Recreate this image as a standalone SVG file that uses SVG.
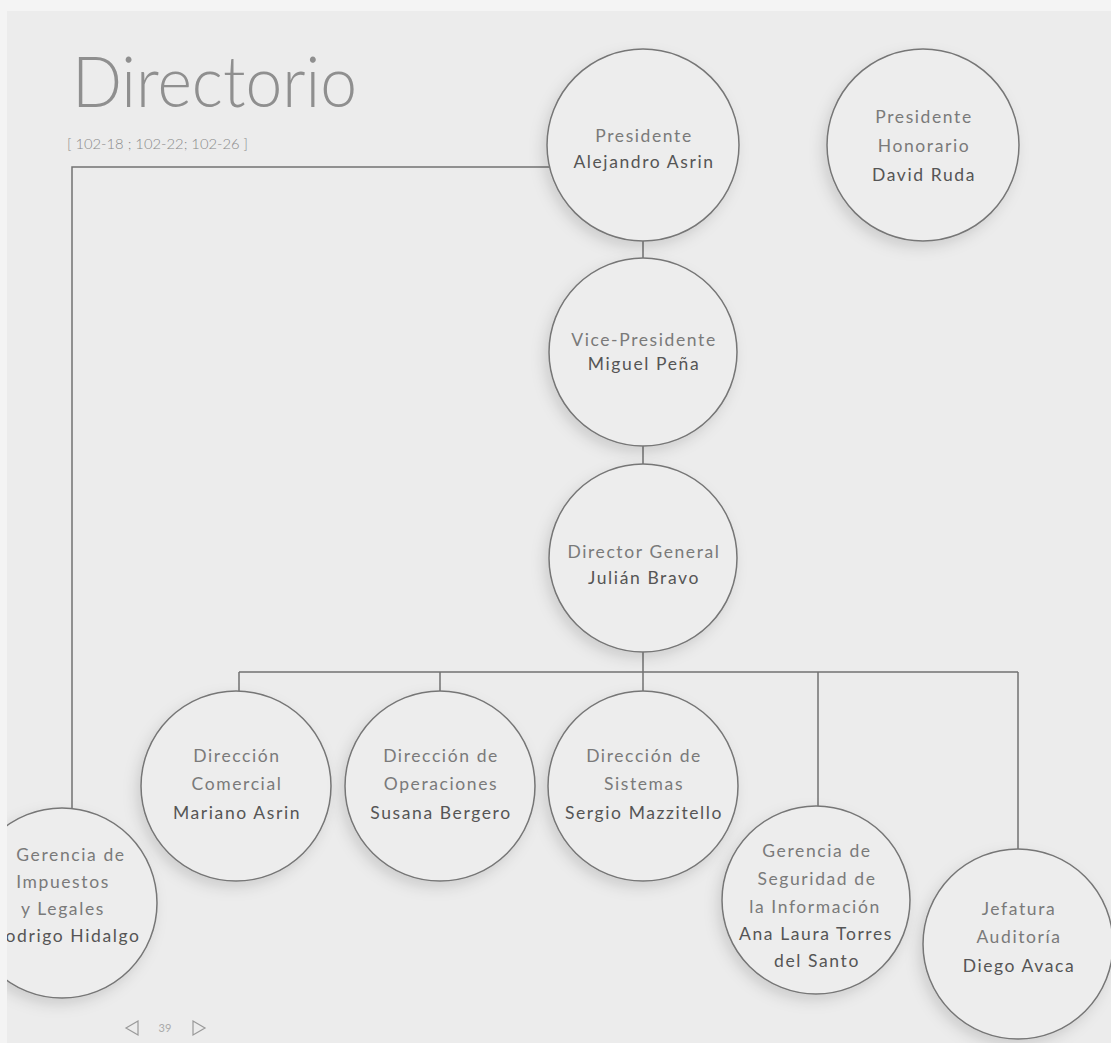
<svg xmlns="http://www.w3.org/2000/svg" width="1111" height="1043" viewBox="0 0 1111 1043">
<style>
.node circle{fill:#ededed;stroke:#767676;stroke-width:1.5;filter:url(#sh)}
.t{font-family:"Lato","Liberation Sans",sans-serif;font-size:17.5px;letter-spacing:1.6px;fill:#7a7a7a;text-anchor:middle}
.n{fill:#555}
.conn line,.conn polyline{stroke:#727272;stroke-width:1.5;fill:none}
</style>
<defs>
<filter id="sh" x="-20%" y="-20%" width="150%" height="150%">
<feDropShadow dx="-4" dy="6" stdDeviation="7" flood-color="#000" flood-opacity="0.13"/>
</filter>
<clipPath id="page"><rect x="7" y="11" width="1104" height="1032"/></clipPath>
</defs>
<rect width="1111" height="1043" fill="#f4f4f4"/>
<rect x="7" y="11" width="1104" height="1032" fill="#ececec"/>
<g clip-path="url(#page)">
<text x="72" y="107" font-family="Lato,'Liberation Sans',sans-serif" font-weight="300" font-size="70" fill="#8f8f8f" textLength="285" lengthAdjust="spacingAndGlyphs">Directorio</text>
<text x="67" y="149" font-family="Lato,'Liberation Sans',sans-serif" font-weight="300" font-size="13" fill="#8a8a8a" textLength="181" lengthAdjust="spacingAndGlyphs">[ 102-18 ; 102-22; 102-26 ]</text>

<g class="conn">
<polyline points="550,167 72,167 72,808"/>
<line x1="643" y1="240" x2="643" y2="258"/>
<line x1="643" y1="446" x2="643" y2="464"/>
<line x1="643" y1="652" x2="643" y2="672"/>
<line x1="239" y1="672" x2="1018" y2="672"/>
<line x1="239" y1="672" x2="239" y2="691"/>
<line x1="440" y1="672" x2="440" y2="691"/>
<line x1="643" y1="672" x2="643" y2="691"/>
<line x1="818" y1="672" x2="818" y2="806"/>
<line x1="1018" y1="672" x2="1018" y2="849"/>
</g>

<g id="presidente" class="node"><circle cx="643" cy="145" r="96"/>
<text class="t" x="644" y="142">Presidente</text><text class="t n" x="644" y="168">Alejandro Asrin</text></g>
<g id="honorario" class="node"><circle cx="923" cy="145" r="96"/>
<text class="t" x="924" y="123">Presidente</text><text class="t" x="924" y="152">Honorario</text><text class="t n" x="924" y="181">David Ruda</text></g>
<g id="vicepresidente" class="node"><circle cx="643" cy="352" r="94"/>
<text class="t" x="644" y="346">Vice-Presidente</text><text class="t n" x="644" y="370">Miguel Peña</text></g>
<g id="directorgeneral" class="node"><circle cx="643" cy="558" r="94"/>
<text class="t" x="644" y="558">Director General</text><text class="t n" x="644" y="584">Julián Bravo</text></g>
<g id="comercial" class="node"><circle cx="236" cy="786" r="95"/>
<text class="t" x="237" y="762">Dirección</text><text class="t" x="237" y="790">Comercial</text><text class="t n" x="237" y="819">Mariano Asrin</text></g>
<g id="operaciones" class="node"><circle cx="440" cy="786" r="95"/>
<text class="t" x="441" y="762">Dirección de</text><text class="t" x="441" y="790">Operaciones</text><text class="t n" x="441" y="819">Susana Bergero</text></g>
<g id="sistemas" class="node"><circle cx="643" cy="786" r="95"/>
<text class="t" x="644" y="762">Dirección de</text><text class="t" x="644" y="790">Sistemas</text><text class="t n" x="644" y="819">Sergio Mazzitello</text></g>
<g id="seguridad" class="node"><circle cx="816" cy="900" r="94"/>
<text class="t" x="817" y="857">Gerencia de</text><text class="t" x="817" y="885">Seguridad de</text><text class="t" x="815" y="913">la Información</text><text class="t n" x="816" y="940" letter-spacing="0.4">Ana Laura Torres</text><text class="t n" x="817" y="967">del Santo</text></g>
<g id="auditoria" class="node"><circle cx="1018" cy="944" r="95"/>
<text class="t" x="1019" y="915">Jefatura</text><text class="t" x="1019" y="943">Auditoría</text><text class="t n" x="1019" y="972">Diego Avaca</text></g>
<g id="impuestos" class="node"><circle cx="62" cy="903" r="95"/>
<text class="t" x="71" y="861">Gerencia de</text><text class="t" x="63" y="888">Impuestos</text><text class="t" x="63" y="915">y Legales</text><text class="t n" x="73" y="942">odrigo Hidalgo</text></g>

<g id="nav" fill="none" stroke="#9a9a9a" stroke-width="1.2">
<path d="M138,1021 L126,1028 L138,1035 Z"/>
<path d="M193,1021 L205,1028 L193,1035 Z"/>
</g>
<text x="165" y="1032" font-family="Lato,'Liberation Sans',sans-serif" font-size="11" fill="#aaa" text-anchor="middle">39</text>
</g>
</svg>
